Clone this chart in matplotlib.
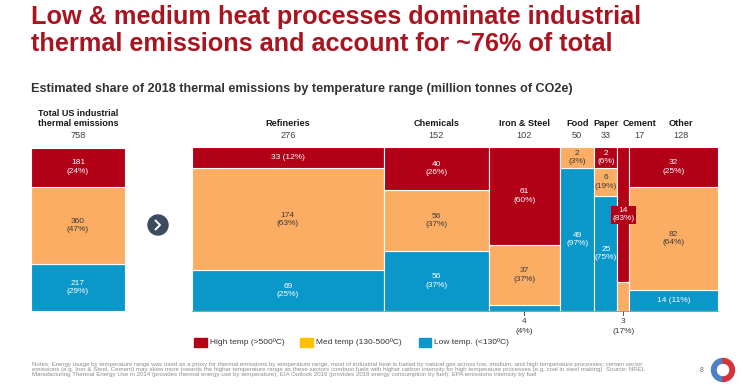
import matplotlib.pyplot as plt
from matplotlib.patches import Rectangle, Circle, Wedge

plt.rcParams['font.family'] = ['Liberation Sans', 'DejaVu Sans']

# ---- data ----
sectors = ['Refineries', 'Chemicals', 'Iron & Steel', 'Food', 'Paper', 'Cement', 'Other']
sector_totals = [276, 152, 102, 50, 33, 17, 128]
high_vals = [33, 40, 61, 0, 2, 14, 32]
med_vals = [174, 56, 37, 2, 6, 3, 82]
low_vals = [69, 56, 4, 49, 25, 0, 14]
high_pct = [12, 26, 60, 0, 6, 83, 25]
med_pct = [63, 37, 37, 3, 19, 17, 64]
low_pct = [25, 37, 4, 97, 75, 0, 11]

total_label = 'Total US industrial\nthermal emissions'
total_value = 758
total_vals = [181, 360, 217]     # high, med, low
total_pct = [24, 47, 29]

legend_labels = ['High temp (>500ºC)', 'Med temp (130-500ºC)', 'Low temp. (<130ºC)']

title_lines = ['Low & medium heat processes dominate industrial',
               'thermal emissions and account for ~76% of total']
subtitle = 'Estimated share of 2018 thermal emissions by temperature range (million tonnes of CO2e)'

# ---- style ----
RED = '#B20017'
ORANGE = '#FCAD64'
BLUE = '#0A97C9'
LEG_YELLOW = '#FFC000'
TITLE_RED = '#A8141F'
DARK = '#3a3a3a'
W, H = 743, 385
MIN_SHARE = 0.13       # small labelled segments are drawn taller for readability
outside = {('Iron & Steel', 'low'), ('Cement', 'med')}
boxed = {('Cement', 'high')}
header_nudge = {'Cement': 16, 'Other': 7}   # px


def fx(x):
    return x / W


def fy(y):
    return 1 - y / H


fig = plt.figure(figsize=(W / 100, H / 100), dpi=100)

# overlay for decorations in pixel space
ov = fig.add_axes([0, 0, 1, 1])
ov.set_xlim(0, W)
ov.set_ylim(H, 0)
ov.axis('off')

for line, base in zip(title_lines, [24.3, 50.7]):
    fig.text(fx(31), fy(base), line, color=TITLE_RED, fontsize=18.2, fontweight='bold', va='baseline', ha='left')
fig.text(fx(31), fy(92.3), subtitle, color='#333333', fontsize=9.05, fontweight='bold', va='baseline', ha='left')

# ---- left total bar ----
axl = fig.add_axes([fx(31), fy(311), (125 - 31) / W, (311 - 147.5) / H])
axl.set_xlim(0, 1)
axl.set_ylim(0, 1)
axl.axis('off')
tsum = sum(total_vals)
bottom = 0
for v, p, c, tc in zip(total_vals[::-1], total_pct[::-1], [BLUE, ORANGE, RED], ['white', DARK, 'white']):
    h = v / tsum
    axl.bar(0, h, width=1, bottom=bottom, align='edge', color=c, edgecolor='white', linewidth=0.8)
    axl.text(0.5, bottom + h / 2, f'{v}\n({p}%)', ha='center', va='center', color=tc, fontsize=6, linespacing=1.3)
    bottom += h
fig.text(fx(78), fy(118.5), total_label, ha='center', va='center', fontsize=6.6, fontweight='bold',
         color='#1a1a1a', linespacing=1.25)
fig.text(fx(78), fy(136), str(total_value), ha='center', va='center', fontsize=6.6, color='#404040')

# arrow circle
ov.add_patch(Circle((158, 225), 10, color='#3D4B5F'))
ov.plot([155.5, 160, 155.5], [220.5, 225, 229.5], color='white', lw=1.4, solid_capstyle='round')

# ---- mekko ----
ax = fig.add_axes([fx(192), fy(311), (718 - 192) / W, (311 - 147) / H])
ax.set_xlim(0, sum(sector_totals))
ax.set_ylim(0, 1)
ax.axis('off')

x0 = 0
for i, name in enumerate(sectors):
    w = sector_totals[i]
    segs = [('low', low_vals[i], low_pct[i], BLUE, 'white'),
            ('med', med_vals[i], med_pct[i], ORANGE, DARK),
            ('high', high_vals[i], high_pct[i], RED, 'white')]
    ssum = sum(s[1] for s in segs)
    small = [s[1] > 0 and (name, s[0]) not in outside and s[1] / ssum < MIN_SHARE for s in segs]
    fixed = MIN_SHARE * sum(small)
    rest = sum(s[1] for s, sm in zip(segs, small) if not sm)
    shares = [MIN_SHARE if sm else s[1] / rest * (1 - fixed) for s, sm in zip(segs, small)]

    bottom = 0
    for (key, v, p, c, tc), h in zip(segs, shares):
        if v == 0:
            continue
        ax.bar(x0, h, width=w, bottom=bottom, align='edge', color=c, edgecolor='white', linewidth=0.8)
        cx = x0 + w / 2
        cy = bottom + h / 2
        if (name, key) in outside:
            ax.plot([cx, cx], [0, -0.025], color='#555555', lw=0.7, clip_on=False)
            ax.text(cx, -0.04, f'{v}\n({p}%)', ha='center', va='top', fontsize=6, color=DARK,
                    linespacing=1.6, clip_on=False)
        elif (name, key) in boxed:
            ax.text(cx, cy, f'{v}\n({p}%)', ha='center', va='center', fontsize=6, color='white', linespacing=1.3,
                    bbox=dict(boxstyle='square,pad=0.15', fc=c, ec='none'))
        elif w > 120 and v / ssum < 0.15:
            ax.text(cx, cy, f'{v} ({p}%)', ha='center', va='center', fontsize=6, color=tc)
        else:
            ax.text(cx, cy, f'{v}\n({p}%)', ha='center', va='center', fontsize=6, color=tc, linespacing=1.3)
        bottom += h

    nudge = header_nudge.get(name, 0) * 0.72
    ax.annotate(name, (x0 + w / 2, 1), xytext=(nudge, 16.6), textcoords='offset points',
                ha='center', va='center', fontsize=6.6, fontweight='bold', color='#1a1a1a', annotation_clip=False)
    ax.annotate(str(sector_totals[i]), (x0 + w / 2, 1), xytext=(nudge, 8.6),
                textcoords='offset points', ha='center', va='center', fontsize=6.6, color='#404040',
                annotation_clip=False)
    x0 += w
ax.plot([0, x0], [0, 0], color='#8a8a8a', lw=0.6, clip_on=False)

# ---- legend ----
for lx, c, lab in zip([194, 300, 418.5], [RED, LEG_YELLOW, BLUE], legend_labels):
    ov.add_patch(Rectangle((lx, 338), 12.5, 9, color=c))
    ov.text(lx + 16, 342.5, lab, ha='left', va='center', fontsize=6, color='#333333')

# ---- notes ----
notes = ('Notes: Energy usage by temperature range was used as a proxy for thermal emissions by temperature range, most of industrial heat is fueled by natural gas across low, medium, and high temperature processes; certain sector\n'
         'emissions (e.g. Iron & Steel, Cement) may skew more towards the higher temperature range as these sectors combust fuels with higher carbon intensity for high temperature processes (e.g. coal in steel making)  Source: NREL\n'
         'Manufacturing Thermal Energy Use in 2014 (provides thermal energy use by temperature); EIA Outlook 2019 (provides 2018 energy consumption by fuel); EPA emissions intensity by fuel')
ov.text(31.5, 369.3, notes, ha='left', va='center', fontsize=4.45, color='#8c8c8c', linespacing=0.95)

ov.text(702, 370, '8', ha='center', va='center', fontsize=5, color='#666666')
ov.add_patch(Wedge((723, 370), 11.5, 90, 270, width=4.5, color='#4F7FC4'))
ov.add_patch(Wedge((723, 370), 11.5, 270, 90, width=4.5, color='#D2343A'))

fig.savefig('out.png', dpi=100)
